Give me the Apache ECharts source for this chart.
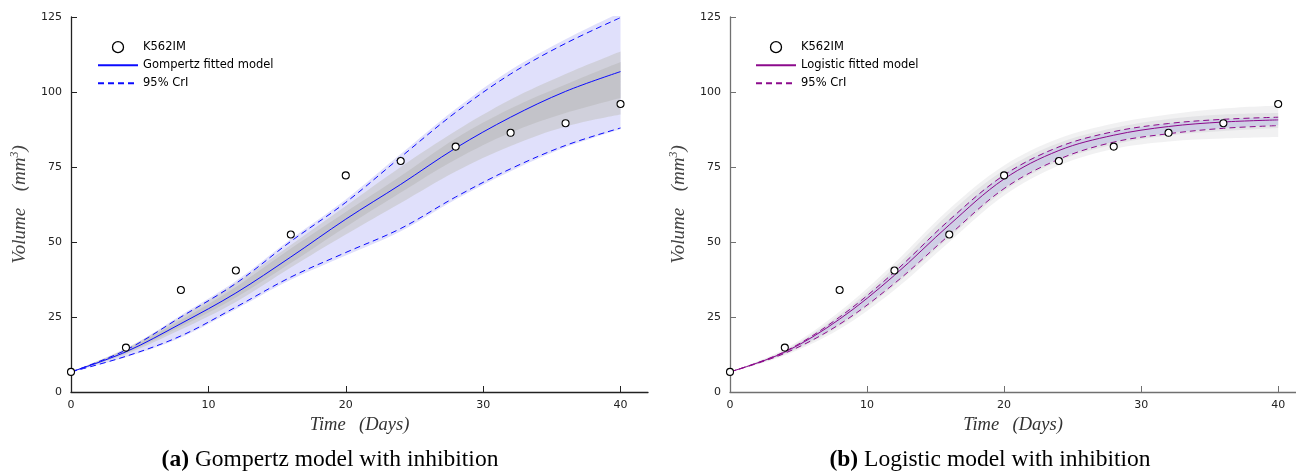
<!DOCTYPE html>
<html>
<head>
<meta charset="utf-8">
<title>Tumour growth models with inhibition</title>
<script src="https://cdn.jsdelivr.net/npm/echarts@6/dist/echarts.min.js"></script>
<style>
  html, body { margin: 0; padding: 0; background: #fff; }
  #chart { width: 1296px; height: 474px; }
</style>
</head>
<body>
<div id="chart"></div>
<script>
// Observation days and measured tumour volume (mm^3) of the K562IM line
const days = [0, 4, 8, 12, 16, 20, 24, 28, 32, 36, 40];
const observedVolume = [6.7, 14.8, 34.0, 40.5, 52.5, 72.2, 77.0, 81.8, 86.4, 89.6, 96.0];

// Gompertz model: posterior mean and 95% credible interval
const gompertzMean  = [6.7, 13.4, 22.8, 33.0, 45.0, 57.6, 69.2, 81.3, 91.6, 100.2, 106.8];
const gompertzUpper = [6.7, 14.0, 25.0, 36.2, 50.2, 63.2, 78.3, 93.2, 106.0, 116.2, 124.8];
const gompertzLower = [6.7, 11.9, 18.7, 28.3, 38.3, 46.5, 54.5, 65.0, 74.4, 82.2, 88.0];
// Gompertz posterior draws: full spread and the denser core
const gompertzSpreadLow  = [6.7, 11.6, 18.2, 27.6, 37.4, 45.5, 53.6, 64.2, 73.6, 81.6, 87.6];
const gompertzSpreadHigh = [6.7, 14.3, 25.6, 37.0, 51.0, 64.2, 79.3, 94.3, 107.3, 117.6, 126.5];
const gompertzDrawLow    = [6.7, 12.6, 20.8, 30.0, 41.5, 52.5, 63.0, 73.5, 82.0, 88.5, 92.5];
const gompertzDrawHigh   = [6.7, 14.6, 25.0, 36.3, 49.0, 62.0, 75.0, 87.0, 97.5, 106.0, 113.5];
const gompertzCoreLow    = [6.7, 13.0, 21.8, 31.5, 43.0, 55.0, 66.5, 77.5, 86.5, 93.0, 98.0];
const gompertzCoreHigh   = [6.7, 14.2, 24.0, 35.0, 47.8, 60.0, 72.0, 84.5, 94.5, 102.5, 110.0];

// Logistic model: posterior mean and 95% credible interval
const logisticMean  = [6.7, 13.3, 24.3, 38.9, 55.7, 71.0, 80.5, 85.6, 88.5, 90.0, 90.7];
const logisticUpper = [6.7, 13.5, 25.0, 40.0, 57.3, 72.3, 81.7, 86.8, 89.5, 90.9, 91.6];
const logisticLower = [6.7, 12.9, 22.6, 36.2, 52.3, 67.8, 77.6, 83.3, 86.1, 87.9, 88.8];
// Logistic posterior draws: outer spread, middle and core
const logisticSpreadLow  = [6.7, 12.2, 21.0, 34.0, 50.0, 65.5, 75.5, 81.0, 83.5, 84.5, 85.0];
const logisticSpreadHigh = [6.7, 14.3, 26.8, 43.0, 61.0, 75.5, 84.5, 89.5, 92.5, 94.5, 95.5];
const logisticDrawLow    = [6.7, 12.6, 22.0, 35.5, 51.5, 67.0, 77.0, 82.5, 85.5, 87.0, 88.0];
const logisticDrawHigh   = [6.7, 13.9, 25.8, 41.5, 59.5, 74.0, 83.0, 88.0, 91.0, 92.5, 93.0];
const logisticCoreLow    = [6.7, 12.9, 22.8, 36.5, 52.5, 68.0, 77.8, 83.4, 86.3, 88.0, 88.9];
const logisticCoreHigh   = [6.7, 13.6, 25.0, 40.2, 57.5, 72.5, 81.8, 86.8, 89.5, 91.0, 91.6];

// Axis ticks
const xTicks = [0, 10, 20, 30, 40];
const yTicks = [0, 25, 50, 75, 100, 125];

const pairs = (ys) => days.map((d, i) => [d, ys[i]]);

// A shaded band: a transparent base line with the band width stacked on top.
// Rows are stored as [value, day] so that the value column is the one stacked.
function band(id, axisIndex, low, high, color, z) {
  const stack = 'band-' + id;
  const common = {
    type: 'line', xAxisIndex: axisIndex, yAxisIndex: axisIndex, stack: stack,
    encode: { x: 1, y: 0 }, symbol: 'none', smooth: 0.35, silent: true,
    lineStyle: { opacity: 0 }, z: z
  };
  return [
    Object.assign({}, common, { data: days.map((d, i) => [low[i], d]) }),
    Object.assign({}, common, {
      data: days.map((d, i) => [high[i] - low[i], d]),
      areaStyle: { color: color, opacity: 1 }
    })
  ];
}

function curve(name, axisIndex, ys, color, dashed, z) {
  return {
    name: name, type: 'line', xAxisIndex: axisIndex, yAxisIndex: axisIndex,
    data: pairs(ys), symbol: 'none', smooth: 0.35, silent: true, z: z,
    lineStyle: { color: color, width: 1, type: dashed ? [6, 4] : 'solid' },
    itemStyle: { color: color }
  };
}

function observed(name, axisIndex) {
  return {
    name: name, type: 'scatter', xAxisIndex: axisIndex, yAxisIndex: axisIndex,
    data: pairs(observedVolume), symbol: 'circle', symbolSize: 7, z: 10,
    itemStyle: { color: '#ffffff', borderColor: '#000000', borderWidth: 1.1, opacity: 1 }
  };
}

const axisFont = { fontFamily: 'DejaVu Sans', fontSize: 11, color: '#222' };

function xAxis(gridIndex, max, lineColor) {
  return {
    type: 'value', gridIndex: gridIndex, min: 0, max: max, interval: 10,
    name: '{i|Time}    {i|(Days)}', nameLocation: 'middle', nameGap: 24,
    nameTextStyle: { rich: { i: { fontFamily: 'Liberation Serif', fontStyle: 'italic', fontSize: 18.5, color: '#333' } } },
    axisLine: { show: true, lineStyle: { color: lineColor, width: 1.3 } },
    axisTick: { show: true, inside: true, length: 6, customValues: xTicks, lineStyle: { color: lineColor } },
    axisLabel: Object.assign({ margin: 8, customValues: xTicks }, axisFont),
    splitLine: { show: false }
  };
}

function yAxis(gridIndex, lineColor) {
  return {
    type: 'value', gridIndex: gridIndex, min: 0, max: 125, interval: 25,
    name: '{i|Volume}     {i|(mm}{s|3}{i|)}', nameLocation: 'middle', nameGap: 41, nameRotate: 90,
    nameTextStyle: { rich: {
      i: { fontFamily: 'Liberation Serif', fontStyle: 'italic', fontSize: 19, color: '#444' },
      s: { fontFamily: 'Liberation Serif', fontStyle: 'italic', fontSize: 12, color: '#444', verticalAlign: 'top', padding: [0, 0, 9, 0] }
    } },
    axisLine: { show: true, lineStyle: { color: lineColor, width: 1.3 } },
    axisTick: { show: true, inside: true, length: 6, customValues: yTicks, lineStyle: { color: lineColor } },
    axisLabel: Object.assign({ margin: 9, customValues: yTicks }, axisFont),
    splitLine: { show: false }
  };
}

function legend(left, names) {
  return {
    left: left, top: 41, padding: 0, orient: 'vertical', itemWidth: 40, itemHeight: 11, itemGap: 6,
    selectedMode: false,
    textStyle: { fontFamily: 'DejaVu Sans', fontSize: 11.5, color: '#000' },
    data: [
      { name: names[0], icon: 'circle', itemStyle: { color: '#fff', borderColor: '#000', borderWidth: 1.3, opacity: 1 } },
      { name: names[1], itemStyle: { opacity: 0 } },
      { name: names[2], itemStyle: { opacity: 0 } }
    ]
  };
}

const blue = '#0b0bff';
const purple = '#8c0a8c';

const series = [
  // Gompertz panel
  ...band('g-spread', 0, gompertzSpreadLow, gompertzSpreadHigh, '#e0e0fb', 1),
  ...band('g-draw', 0, gompertzDrawLow, gompertzDrawHigh, 'rgba(200,200,202,0.65)', 2),
  ...band('g-core', 0, gompertzCoreLow, gompertzCoreHigh, 'rgba(186,186,188,0.6)', 3),
  curve('95% CrI', 0, gompertzUpper, blue, true, 5),
  curve('95% CrI', 0, gompertzLower, blue, true, 5),
  curve('Gompertz fitted model', 0, gompertzMean, blue, false, 6),
  observed('K562IM', 0),
  // Logistic panel
  ...band('l-spread', 1, logisticSpreadLow, logisticSpreadHigh, 'rgba(240,240,241,0.9)', 1),
  ...band('l-draw', 1, logisticDrawLow, logisticDrawHigh, 'rgba(218,218,222,0.6)', 2),
  ...band('l-core', 1, logisticCoreLow, logisticCoreHigh, 'rgba(198,198,228,0.7)', 3),
  curve('95% CrI ', 1, logisticUpper, purple, true, 5),
  curve('95% CrI ', 1, logisticLower, purple, true, 5),
  curve('Logistic fitted model', 1, logisticMean, purple, false, 6),
  observed('K562IM ', 1)
];

const captionRich = { b: { fontFamily: 'Liberation Serif', fontWeight: 'bold', fontSize: 23.5, fill: '#000' } };

const chart = echarts.init(document.getElementById('chart'), null, { renderer: 'canvas' });
chart.setOption({
  animation: false,
  backgroundColor: '#ffffff',
  grid: [
    { left: 71, top: 17, width: 577, height: 375 },
    { left: 730, top: 17, width: 566, height: 375 }
  ],
  xAxis: [xAxis(0, 42, '#222'), xAxis(1, 41.3, '#707070')],
  yAxis: [yAxis(0, '#222'), yAxis(1, '#707070')],
  legend: [
    legend(97, ['K562IM', 'Gompertz fitted model', '95% CrI']),
    legend(755, ['K562IM ', 'Logistic fitted model', '95% CrI '])
  ],
  graphic: [
    {
      type: 'text', x: 330, y: 460, silent: true,
      style: {
        text: '{b|(a)} Gompertz model with inhibition', align: 'center', verticalAlign: 'middle',
        rich: captionRich, fontFamily: 'Liberation Serif', fontSize: 23.5, fill: '#000'
      }
    },
    {
      type: 'text', x: 990, y: 460, silent: true,
      style: {
        text: '{b|(b)} Logistic model with inhibition', align: 'center', verticalAlign: 'middle',
        rich: captionRich, fontFamily: 'Liberation Serif', fontSize: 23.5, fill: '#000'
      }
    }
  ],
  series: series
});
</script>
</body>
</html>
